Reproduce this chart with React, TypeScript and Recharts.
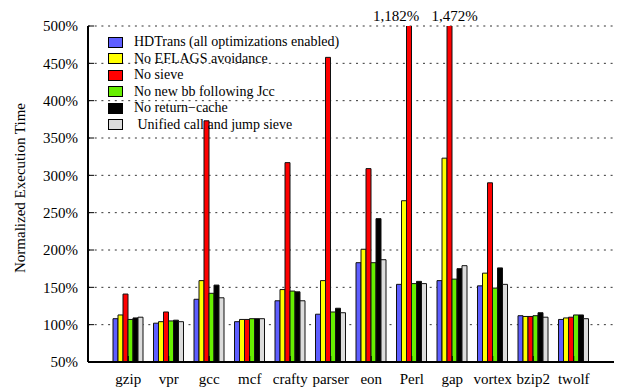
import React from "react";
import { BarChart, Bar, XAxis, YAxis, CartesianGrid, Legend, LabelList } from "recharts";

const BENCHMARKS = ["gzip", "vpr", "gcc", "mcf", "crafty", "parser", "eon", "Perl", "gap", "vortex", "bzip2", "twolf"];

// normalized execution time, percent of native
const HDTRANS = [108, 102, 134, 104, 132, 114, 183, 154, 159, 152, 112, 107];
const NO_EFLAGS = [113, 104, 159, 107, 147, 159, 201, 266, 323, 169, 111, 109];
const NO_SIEVE = [141, 117, 373, 107, 317, 458, 309, 1182, 1472, 290, 111, 110];
const NO_NEW_BB = [107, 105, 142, 108, 145, 117, 183, 155, 161, 149, 112, 113];
const NO_RET_CACHE = [109, 106, 153, 108, 144, 122, 242, 158, 175, 176, 116, 113];
const UNIFIED_SIEVE = [110, 104, 136, 108, 132, 116, 187, 155, 179, 154, 110, 108];

const Y_TICKS = [50, 100, 150, 200, 250, 300, 350, 400, 450, 500];
const Y_MAX = 500;

const SERIES = [
  { key: "hdtrans", name: "HDTrans (all optimizations enabled)", color: "#5e5eff", values: HDTRANS },
  { key: "noEflags", name: "No EFLAGS avoidance", color: "#ffff00", values: NO_EFLAGS },
  { key: "noSieve", name: "No sieve", color: "#ff0000", values: NO_SIEVE },
  { key: "noNewBb", name: "No new bb following Jcc", color: "#66ee00", values: NO_NEW_BB },
  { key: "noRetCache", name: "No return\u2212cache", color: "#000000", values: NO_RET_CACHE },
  { key: "unified", name: " Unified call and jump sieve", color: "#dcdcdc", values: UNIFIED_SIEVE },
];

const data = BENCHMARKS.map((name, i) => {
  const row: Record<string, string | number> = { name };
  SERIES.forEach((s) => (row[s.key] = s.values[i]));
  return row;
});

const FONT = '"Liberation Serif", "Times New Roman", Times, serif';
const MARGIN = { top: 26, right: 8, bottom: 0, left: 0 };

// nudges for the off-scale value labels above the frame
const OVERFLOW_DX: Record<string, number> = { Perl: -13, gap: 5 };

function OverflowLabel(props: any) {
  const { x, width, value, index } = props;
  if (value <= Y_MAX) return null;
  const dx = OVERFLOW_DX[BENCHMARKS[index]] ?? 0;
  return (
    <text
      x={x + width / 2 + dx}
      y={MARGIN.top - 5}
      textAnchor="middle"
      fontFamily={FONT}
      fontSize={15}
      fill="#000"
    >
      {value.toLocaleString("en-US")}%
    </text>
  );
}

function LegendBox() {
  return (
    <div style={{ fontFamily: FONT, fontSize: 14, color: "#000", lineHeight: "16.5px" }}>
      {SERIES.map((s) => (
        <div key={s.key} style={{ display: "flex", alignItems: "center", height: 16.5 }}>
          <span
            style={{
              display: "inline-block",
              width: 13,
              height: 9,
              background: s.color,
              border: "1px solid #000",
              marginRight: 11,
            }}
          />
          <span style={{ whiteSpace: "pre" }}>{s.name}</span>
        </div>
      ))}
    </div>
  );
}

function YTitle(props: any) {
  const { viewBox } = props;
  const cy = viewBox.y + viewBox.height / 2 - 6;
  return (
    <text
      x={25}
      y={cy}
      transform={`rotate(-90, 25, ${cy})`}
      textAnchor="middle"
      fontFamily={FONT}
      fontSize={15}
      fill="#000"
    >
      Normalized Execution Time
    </text>
  );
}

export default function App() {
  const tickStyle = { fontFamily: FONT, fontSize: 15, fill: "#000" };
  const frame = { stroke: "#000", strokeWidth: 2 };
  return (
    <div style={{ position: "absolute", left: 0, top: 0, background: "#fff" }}>
      <BarChart width={622} height={389} data={data} margin={MARGIN} barGap={0}>
        <CartesianGrid vertical={false} stroke="#333" strokeDasharray="2 4.7" />
        <XAxis
          dataKey="name"
          interval={0}
          height={27}
          padding={{ left: 20, right: 20 }}
          tick={tickStyle}
          tickSize={-6}
          tickMargin={17}
          axisLine={frame}
          tickLine={{ stroke: "#000" }}
        />
        <XAxis
          xAxisId="top"
          orientation="top"
          dataKey="name"
          interval={0}
          height={0}
          padding={{ left: 20, right: 20 }}
          tick={false}
          tickSize={-6}
          axisLine={frame}
          tickLine={{ stroke: "#000" }}
        />
        <YAxis
          width={88}
          domain={[50, Y_MAX]}
          ticks={Y_TICKS}
          allowDataOverflow
          tickFormatter={(v) => `${v}%`}
          tick={tickStyle}
          tickSize={-6}
          tickMargin={16}
          axisLine={frame}
          tickLine={{ stroke: "#000" }}
          label={{ content: YTitle }}
        />
        <YAxis
          yAxisId="right"
          orientation="right"
          width={0}
          domain={[50, Y_MAX]}
          ticks={Y_TICKS}
          allowDataOverflow
          tick={false}
          tickSize={-6}
          axisLine={frame}
          tickLine={{ stroke: "#000" }}
        />
        <Legend
          layout="vertical"
          align="center"
          verticalAlign="middle"
          content={LegendBox}
          wrapperStyle={{ top: 34, left: 108, width: "auto" }}
        />
        {SERIES.map((s) => (
          <Bar
            key={s.key}
            dataKey={s.key}
            name={s.name}
            fill={s.color}
            stroke="#111"
            strokeWidth={1}
            barSize={5}
            isAnimationActive={false}
          >
            {s.key === "noSieve" && <LabelList dataKey={s.key} content={OverflowLabel} />}
          </Bar>
        ))}
      </BarChart>
    </div>
  );
}
